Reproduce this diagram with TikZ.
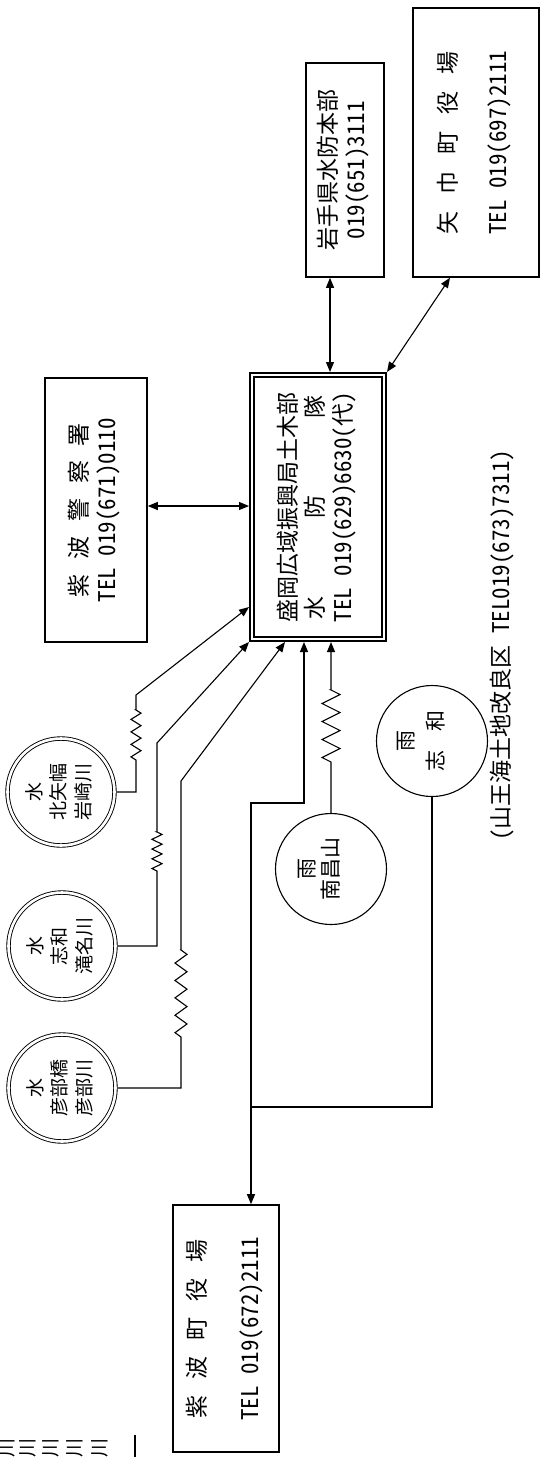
\documentclass[tikz,border=0pt]{standalone}
\usepackage{fontspec}
\setmainfont{Noto Sans CJK JP}[RawFeature=+hwid]
\usepackage{graphicx}
\usetikzlibrary{arrows.meta,calc,decorations.pathmorphing}
\newcommand{\vtxt}[1]{\rotatebox{90}{\begin{tabular}{@{}c@{}}#1\end{tabular}}}

\begin{document}
\begin{tikzpicture}[x=1pt, y=-1pt, >={Triangle[length=10pt,width=8pt]},
    office/.style={draw, line width=1.6pt, inner sep=0pt, font=\fontsize{23}{27.5}\selectfont},
    hq/.style={office, double, double distance=2.4pt, outer sep=2.8pt},
    wgauge/.style={circle, draw, line width=0.9pt, double, double distance=2.6pt, minimum size=107pt, inner sep=0pt, outer sep=2.2pt, font=\fontsize{19}{24.5}\selectfont},
    rgauge/.style={circle, draw, line width=1.1pt, minimum size=111pt, inner sep=0pt},
    rlabel/.style={inner sep=0pt, font=\fontsize{21}{22}\selectfont},
    link/.style={line width=1.1pt},
    both/.style={link, <->},
    feed/.style={link, ->},
    zig/.style 2 args={decoration={zigzag, segment length=#1, amplitude=#2}}
  ]
  \useasboundingbox (0,0) rectangle (541,1457);
  \clip (0,0) rectangle (541,1457);

  \node[office, minimum width=78pt, minimum height=214pt]  (iwate)  at (345,170)    {\vtxt{岩手県水防本部\\019(651)3111}};
  \node[office, minimum width=126pt, minimum height=269pt] (yahaba) at (476,142.5)  {\vtxt{\makebox[183pt][s]{矢\hfil 巾\hfil 町\hfil 役\hfil 場}\\[23pt]TEL　019(697)2111}};
  \node[hq, minimum width=132.4pt, minimum height=264.4pt] (suibo)  at (318,507)    {\vtxt{盛岡広域振興局土木部\\\makebox[224pt][s]{水\hfil 防\hfil 隊}\\TEL　019(629)6630(代)}};
  \node[office, minimum width=102pt, minimum height=264pt] (police) at (96,510)     {\vtxt{\makebox[174pt][s]{紫\hfil 波\hfil 警\hfil 察\hfil 署}\\TEL　019(671)0110}};
  \node[office, minimum width=106pt, minimum height=247pt] (town)   at (226,1328.5) {\vtxt{\makebox[179pt][s]{紫\hfil 波\hfil 町\hfil 役\hfil 場}\\[25.5pt]TEL　019(672)2111}};

  \node[wgauge] (kita)   at (61,792)  {\vtxt{水\\北矢幅\\岩崎川}};
  \node[wgauge] (takina) at (62,946)  {\vtxt{水\\志和\\滝名川}};
  \node[wgauge] (hikobe) at (62,1088) {\vtxt{水\\彦部橋\\彦部川}};
  \node[rgauge] (nansho)  at (331,869) {};
  \node[rlabel] (nanshoT) at (322,869) {\vtxt{雨\\南昌山}};
  \node[rgauge] (shiwa)   at (432,741) {};
  \node[rlabel, font=\fontsize{21}{30}\selectfont] (shiwaT) at (422,741) {\vtxt{雨\\志\hspace{19pt}和}};

  \node[font=\fontsize{23}{27}\selectfont] (sannokai) at (502,645) {\rotatebox{90}{(山王海土地改良区　TEL019(673)7311)}};

  \coordinate (ie)  at ($(iwate.south)+(-15,0)$);
  \coordinate (pe)  at ($(police.east)+(0,-4)$);
  \coordinate (jn)  at (251,803);
  \coordinate (jn2) at (251,1107);

  \draw[both] (ie) -- (ie |- suibo.north);
  \draw[both] ($(yahaba.south)+(-26,0)$) -- (suibo.north east);
  \draw[both] (pe) -- (pe -| suibo.west);
  \draw[feed] (kita.east) -| (136,760) decorate[zig={12.5pt}{5pt}]{-- (136,710)} -- (136,695) -- ($(suibo.south west)+(0,-35)$);
  \draw[feed] (takina.east) -| (157,871) decorate[zig={9.75pt}{5pt}]{-- (157,832)} -- (157,743) -- (suibo.south west);
  \draw[feed] (hikobe.east) -| (181,1037) decorate[zig={17.4pt}{6pt}]{-- (181,950)} -- (181,781) -- ($(suibo.south west)+(36,0)$);
  \draw[feed] (nansho.north) -- (331,762) decorate[zig={18pt}{9pt}]{-- (331,690)} -- (nansho.north |- suibo.south);
  \draw[both] ($(suibo.south west)+(55,0)$) |- (jn) -- (town.north -| jn);
  \draw[link] (shiwa.south) |- (jn2);

  \foreach \x [count=\i] in {7,28,51,75,100}
    \node[font=\fontsize{19}{19}\selectfont, inner sep=0pt] (kawa\i) at (\x,1447.5) {\rotatebox{90}{川}};
  \draw[line width=1.6pt] (135,1435) -- (135,1460);
\end{tikzpicture}
\end{document}
